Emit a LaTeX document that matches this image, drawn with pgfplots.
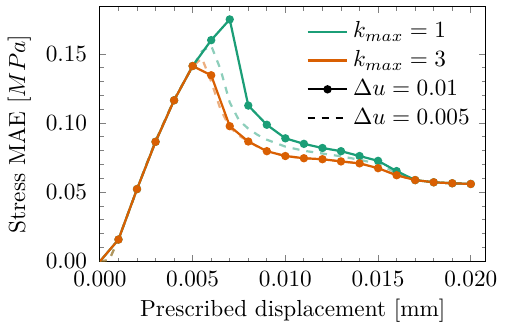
\documentclass[border=0pt]{standalone}
\usepackage{pgfplots}
\pgfplotsset{compat=1.18}
\definecolor{cg}{HTML}{1B9E77}
\definecolor{co}{HTML}{D95F02}
\begin{document}
\begin{tikzpicture}
\begin{axis}[
  scale only axis, width=166pt, height=109.5pt,
  xmin=0, xmax=0.0208, ymin=0, ymax=0.184,
  xtick={0,0.005,0.010,0.015,0.020},
  ytick={0,0.05,0.10,0.15},
  minor x tick num=4, minor y tick num=4,
  tick align=inside, xtick pos=both, ytick pos=both,
  major tick length=2.8pt, minor tick length=1.6pt,
  tick style={line width=0.4pt},
  axis line style={line width=0.4pt},
  xticklabel style={/pgf/number format/fixed, /pgf/number format/fixed zerofill, /pgf/number format/precision=3, yshift=-1pt},
  yticklabel style={/pgf/number format/fixed, /pgf/number format/fixed zerofill, /pgf/number format/precision=2, xshift=-2pt},
  scaled ticks=false,
  xlabel={Prescribed displacement [mm]},
  ylabel={Stress MAE [$MPa$]},
  xlabel style={yshift=1.5pt}, ylabel style={yshift=-0.5pt},
  legend style={draw=none, fill=none, at={(0.99,0.98)}, anchor=north east, row sep=0pt},
  legend cell align=left,
]
% dashed series (du = 0.005)
\addplot[cg, dashed, line width=0.95pt, opacity=0.5, forget plot] coordinates {
(0,0) (0.0005,0.001) (0.001,0.016) (0.0015,0.034) (0.002,0.052) (0.0025,0.070) (0.003,0.087) (0.0035,0.102) (0.004,0.117) (0.0045,0.129) (0.005,0.141) (0.0055,0.152) (0.006,0.156) (0.0065,0.139) (0.007,0.115) (0.0075,0.102) (0.008,0.096) (0.0085,0.0915) (0.009,0.088) (0.0095,0.0855) (0.010,0.083) (0.011,0.080) (0.012,0.078) (0.013,0.076) (0.014,0.0735) (0.015,0.0705) (0.016,0.064) (0.017,0.059) (0.018,0.0572) (0.019,0.0565) (0.020,0.056)};
\addplot[co, dashed, line width=0.95pt, opacity=0.5, forget plot] coordinates {
(0,0) (0.0005,0.001) (0.001,0.016) (0.0015,0.034) (0.002,0.052) (0.0025,0.070) (0.003,0.087) (0.0035,0.102) (0.004,0.117) (0.0045,0.129) (0.005,0.141) (0.0055,0.147) (0.006,0.130) (0.0065,0.110) (0.007,0.097) (0.0075,0.091) (0.008,0.0867) (0.0085,0.083) (0.009,0.0797) (0.0095,0.078) (0.010,0.0762) (0.011,0.0746) (0.012,0.0739) (0.013,0.0723) (0.014,0.0709) (0.015,0.0674) (0.016,0.0623) (0.017,0.0588) (0.018,0.0572) (0.019,0.0565) (0.020,0.056)};
% solid series (du = 0.01)
\addplot[cg, line width=0.95pt, mark=*, mark size=1.3pt, mark indices={2,...,21}, forget plot] coordinates {
(0,0) (0.001,0.0158) (0.002,0.0523) (0.003,0.0865) (0.004,0.1165) (0.005,0.1413) (0.006,0.160) (0.007,0.175) (0.008,0.1127) (0.009,0.0988) (0.010,0.089) (0.011,0.085) (0.012,0.082) (0.013,0.0797) (0.014,0.0762) (0.015,0.0727) (0.016,0.0653) (0.017,0.0588) (0.018,0.0572) (0.019,0.0565) (0.020,0.056)};
\addplot[co, line width=0.95pt, mark=*, mark size=1.3pt, mark indices={2,...,21}, forget plot] coordinates {
(0,0) (0.001,0.0158) (0.002,0.0523) (0.003,0.0865) (0.004,0.1165) (0.005,0.1413) (0.006,0.1346) (0.007,0.0978) (0.008,0.0867) (0.009,0.0797) (0.010,0.0762) (0.011,0.0746) (0.012,0.0739) (0.013,0.0723) (0.014,0.0709) (0.015,0.0674) (0.016,0.0623) (0.017,0.0588) (0.018,0.0572) (0.019,0.0565) (0.020,0.056)};
\addlegendimage{cg, line width=0.95pt}
\addlegendentry{$k_{max}=1$}
\addlegendimage{co, line width=0.95pt}
\addlegendentry{$k_{max}=3$}
\addlegendimage{black, line width=0.95pt, mark=*, mark size=1.3pt}
\addlegendentry{$\Delta u=0.01$}
\addlegendimage{black, dashed, line width=0.95pt}
\addlegendentry{$\Delta u=0.005$}
\end{axis}
\path ([yshift=3pt]current axis.north east);
\end{tikzpicture}
\end{document}
